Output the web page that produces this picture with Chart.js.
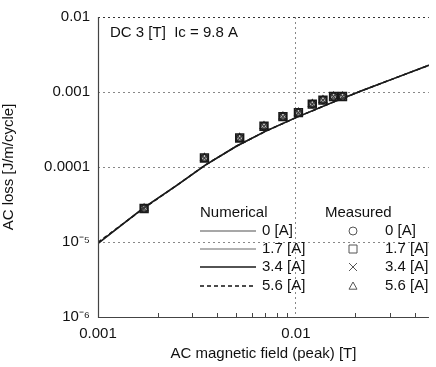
<!DOCTYPE html>
<html><head><meta charset="utf-8">
<script src="https://cdn.jsdelivr.net/npm/chart.js@4/dist/chart.umd.min.js"></script>
<style>html,body{margin:0;padding:0;background:#fff}#wrap{width:436px;height:367px;position:relative}</style>
</head><body><div id="wrap"><canvas id="c"></canvas></div>
<script>
// Numerical curves (AC magnetic field [T], AC loss [J/m/cycle])
const numX      = [0.001, 0.0017, 0.0025, 0.0035, 0.005, 0.007, 0.01, 0.015, 0.0215, 0.03, 0.047];
const num0A     = [9.6e-6, 2.85e-5, 5.7e-5, 1.07e-4, 1.89e-4, 2.98e-4, 4.55e-4, 7.1e-4, 1.04e-3, 1.45e-3, 2.27e-3];
const num17A    = [9.6e-6, 2.85e-5, 5.7e-5, 1.07e-4, 1.89e-4, 2.98e-4, 4.55e-4, 7.1e-4, 1.04e-3, 1.45e-3, 2.27e-3];
const num34A    = [9.6e-6, 2.85e-5, 5.7e-5, 1.07e-4, 1.89e-4, 2.98e-4, 4.55e-4, 7.1e-4, 1.04e-3, 1.45e-3, 2.27e-3];
const num56A    = [9.9e-6, 2.8e-5, 5.7e-5, 1.07e-4, 1.89e-4, 2.98e-4, 4.55e-4, 7.1e-4, 1.04e-3, 1.45e-3, 2.27e-3];
// Measured points
const measX     = [0.00171, 0.00345, 0.0052, 0.0069, 0.0086, 0.0103, 0.0121, 0.0137, 0.0155, 0.0172];
const meas0A    = [2.8e-5, 1.32e-4, 2.44e-4, 3.5e-4, 4.7e-4, 5.3e-4, 6.9e-4, 7.8e-4, 8.7e-4, 8.7e-4];
const meas17A   = [2.8e-5, 1.32e-4, 2.44e-4, 3.5e-4, 4.7e-4, 5.3e-4, 6.9e-4, 7.8e-4, 8.7e-4, 8.7e-4];
const meas34A   = [2.8e-5, 1.32e-4, 2.44e-4, 3.5e-4, 4.7e-4, 5.3e-4, 6.9e-4, 7.8e-4, 8.7e-4, 8.7e-4];
const meas56A   = [2.8e-5, 1.32e-4, 2.44e-4, 3.5e-4, 4.7e-4, 5.3e-4, 6.9e-4, 7.8e-4, 8.7e-4, 8.7e-4];
const seriesLabels = ['0 [A]', '1.7 [A]', '3.4 [A]', '5.6 [A]'];
const xTicks = [0.001, 0.01];
const xTickLabels = ['0.001', '0.01'];
const yTicks = [1e-6, 1e-5, 1e-4, 1e-3, 1e-2];
const yTickLabels = ['10\u207B\u2076', '10\u207B\u2075', '0.0001', '0.001', '0.01'];
const xMin = 0.001, xMax = 0.047, yMin = 1e-6, yMax = 0.01;
const annotationText = 'DC 3 [T]  Ic = 9.8 A';

const pts = (xs, ys) => xs.map((x, i) => ({x, y: ys[i]}));
const FONT = '"Liberation Sans", Arial, sans-serif';

const lineStyles = [
  {color:'#8a8a8a', dash:[], order:4},
  {color:'#9a9a9a', dash:[], order:3},
  {color:'#1a1a1a', dash:[], order:1},
  {color:'#111', dash:[4,3], order:2}
];
const markerStyles = ['circle', 'rect', 'crossRot', 'triangle'];
const markerRadius = [3.5, 5.5, 4, 4.5];

const numData = [num0A, num17A, num34A, num56A];
const measData = [meas0A, meas17A, meas34A, meas56A];
const datasets = [];
numData.forEach((ys, i) => datasets.push({
  label: 'Numerical ' + seriesLabels[i], data: pts(numX, ys), showLine: true,
  borderColor: lineStyles[i].color, borderDash: lineStyles[i].dash, borderWidth: 1.5,
  pointRadius: 0, tension: 0, fill: false, order: lineStyles[i].order
}));
measData.forEach((ys, i) => datasets.push({
  label: 'Measured ' + seriesLabels[i], data: pts(measX, ys), showLine: false,
  pointStyle: markerStyles[i], pointRadius: markerRadius[i], borderColor: '#1a1a1a',
  backgroundColor: i === 1 ? 'rgba(120,120,120,0.35)' : 'rgba(0,0,0,0)', pointBorderWidth: i === 1 ? 1.6 : 1.1, order: 0
}));

const overlay = {
  id: 'overlay',
  afterDraw(chart) {
    const ctx = chart.ctx, xs = chart.scales.x, ca = chart.chartArea;
    ctx.save();
    ctx.strokeStyle = '#444'; ctx.lineWidth = 1.2;
    ctx.beginPath(); ctx.moveTo(ca.left + 0.5, ca.top); ctx.lineTo(ca.left + 0.5, ca.bottom + 0.5); ctx.lineTo(ca.right, ca.bottom + 0.5); ctx.stroke();
    ctx.strokeStyle = '#444'; ctx.lineWidth = 1;
    const minors = [];
    for (let d = 0.001; d < xMax; d *= 10) for (let m = 2; m <= 9; m++) if (d*m < xMax) minors.push(d*m);
    minors.forEach(v => { const px = Math.round(xs.getPixelForValue(v)) + 0.5; ctx.beginPath(); ctx.moveTo(px, ca.bottom); ctx.lineTo(px, ca.bottom - 4); ctx.stroke(); });
    ctx.fillStyle = '#111'; ctx.font = '15px ' + FONT; ctx.textBaseline = 'middle'; ctx.textAlign = 'left';
    ctx.fillText(annotationText, ca.left + 12, ca.top + 16);
    const lx = 200, mx = 325, row0 = 213, dy = 18;
    ctx.fillText('Numerical', lx, row0);
    ctx.fillText('Measured', mx, row0);
    seriesLabels.forEach((lab, i) => {
      const y = row0 + dy * (i + 1) - (i === 3 ? -1 : 0);
      ctx.strokeStyle = lineStyles[i].color; ctx.lineWidth = 1.4; ctx.setLineDash(lineStyles[i].dash);
      ctx.beginPath(); ctx.moveTo(lx, y); ctx.lineTo(lx + 56, y); ctx.stroke();
      ctx.setLineDash([]);
      ctx.fillStyle = '#111';
      ctx.fillText(lab, lx + 62, y);
      ctx.fillText(lab, mx + 60, y);
      ctx.strokeStyle = '#555'; ctx.lineWidth = 1;
      const cx = mx + 28, r = 4;
      ctx.beginPath();
      if (i === 0) { ctx.arc(cx, y, r, 0, Math.PI*2); }
      else if (i === 1) { ctx.rect(cx - r, y - r, 2*r, 2*r); }
      else if (i === 2) { ctx.moveTo(cx-r, y-r); ctx.lineTo(cx+r, y+r); ctx.moveTo(cx+r, y-r); ctx.lineTo(cx-r, y+r); }
      else { ctx.moveTo(cx, y - r); ctx.lineTo(cx + r, y + r*0.8); ctx.lineTo(cx - r, y + r*0.8); ctx.closePath(); }
      ctx.stroke();
    });
    ctx.restore();
  }
};

new Chart(document.getElementById('c'), {
  type: 'scatter',
  data: { datasets },
  options: {
    responsive: true, maintainAspectRatio: false, animation: false,
    layout: { padding: { top: 16, right: 0, left: 0, bottom: 0 } },
    plugins: { legend: { display: false }, tooltip: { enabled: false } },
    scales: {
      x: {
        type: 'logarithmic', min: xMin, max: xMax,
        afterBuildTicks: s => { s.ticks = xTicks.map(v => ({value: v})); },
        afterFit: s => { s.height = 50; },
        ticks: { autoSkip: false, maxRotation: 0, padding: 8, color: '#111', font: { family: FONT, size: 15 },
          callback: (v) => { const i = xTicks.indexOf(v); return i >= 0 ? xTickLabels[i] : ''; } },
        grid: { color: '#888', drawTicks: false, lineWidth: 1 },
        border: { display: false, dash: [2, 3] },
        title: { display: true, text: 'AC magnetic field (peak) [T]', color: '#111', font: { family: FONT, size: 15 }, padding: { top: 0, bottom: 4 } }
      },
      y: {
        type: 'logarithmic', min: yMin, max: yMax,
        afterBuildTicks: s => { s.ticks = yTicks.map(v => ({value: v})); },
        afterFit: s => { s.width = 98; },
        ticks: { autoSkip: false, padding: 8, color: '#111', font: { family: FONT, size: 15 },
          callback: (v) => { const i = yTicks.indexOf(v); return i >= 0 ? yTickLabels[i] : ''; } },
        grid: { color: (c) => c.tick && c.tick.value === yMax ? '#333' : '#888', drawTicks: false, lineWidth: 1 },
        border: { display: false, dash: [2, 3] },
        title: { display: true, text: 'AC loss [J/m/cycle]', color: '#111', font: { family: FONT, size: 15 }, padding: { top: 0, bottom: 12 } }
      }
    }
  },
  plugins: [overlay]
});
</script></body></html>
